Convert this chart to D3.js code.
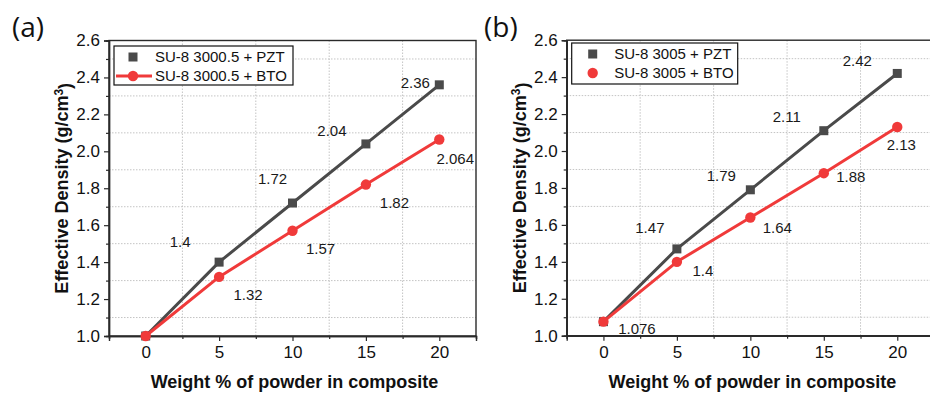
<!DOCTYPE html>
<html><head><meta charset="utf-8">
<script src="https://cdn.jsdelivr.net/npm/d3@7"></script>
<style>
html,body{margin:0;padding:0;background:#fff;}
svg{display:block;}
text{font-family:"Liberation Sans",Arial,sans-serif;}
</style></head>
<body><svg id="chart" width="930" height="394"></svg>
<script>
// ---- data ----
const weightPct = [0, 5, 10, 15, 20];
const pztA = [1.0, 1.4, 1.72, 2.04, 2.36];
const btoA = [1.0, 1.32, 1.57, 1.82, 2.064];
const pztB = [1.076, 1.47, 1.79, 2.11, 2.42];
const btoB = [1.076, 1.4, 1.64, 1.88, 2.13];
const yMajorTicks = [1.0, 1.2, 1.4, 1.6, 1.8, 2.0, 2.2, 2.4, 2.6];
const yMinorTicks = [1.1, 1.3, 1.5, 1.7, 1.9, 2.1, 2.3, 2.5];
const xMajorTicks = [0, 5, 10, 15, 20];
const xMinorTicks = [-2.5, 2.5, 7.5, 12.5, 17.5, 22.5];
const labelsPztA = [false, true, true, true, true];
const labelsBtoA = [false, true, true, true, true];
const labelsPztB = [false, true, true, true, true];
const labelsBtoB = [true, true, true, true, true];
const legendA = ["SU-8 3000.5 + PZT", "SU-8 3000.5 + BTO"];
const legendB = ["SU-8 3005 + PZT", "SU-8 3005 + BTO"];

// ---- layout (pixel offsets of value labels, not data) ----
const offPztA = [null, [-39,-20], [-20,-24], [-34,-13.5], [-24,-2]];
const offBtoA = [null, [29,18], [28,18], [28.5,18.5], [16,19.5]];
const offPztB = [null, [-27,-21], [-29,-14], [-37,-13.5], [-40,-12.7]];
const offBtoB = [[33.5,7.5], [26,9], [27,10.5], [27,4], [4,18]];

const GRAY = "#4a4a4a", RED = "#f03a3a", AXIS = "#2a2a2a";
const svg = d3.select("#chart");

function panel(opt){
  const g = svg.append("g");
  const x = d3.scaleLinear().domain([-2.5, 22.5]).range([opt.left, opt.right]);
  const y = d3.scaleLinear().domain([1.0, 2.6]).range([opt.bottom, opt.top]);

  // grid (minor positions, dotted)
  g.selectAll(".gx").data(xMinorTicks.filter(v => v > -2.5 && v < 22.5)).join("line")
    .attr("x1", d => x(d)).attr("x2", d => x(d)).attr("y1", opt.top).attr("y2", opt.bottom)
    .attr("stroke", "#c4c4c4").attr("stroke-width", 1).attr("stroke-dasharray", "1.5,1.5");
  g.selectAll(".gy").data(yMinorTicks).join("line")
    .attr("y1", d => y(d)).attr("y2", d => y(d)).attr("x1", opt.left).attr("x2", opt.right)
    .attr("stroke", "#c4c4c4").attr("stroke-width", 1).attr("stroke-dasharray", "1.5,1.5");

  // frame
  g.append("rect").attr("x", opt.left).attr("y", opt.top)
    .attr("width", opt.right - opt.left).attr("height", opt.bottom - opt.top)
    .attr("fill", "none").attr("stroke", AXIS).attr("stroke-width", 1.4);

  // axes
  const yAxis = d3.axisLeft(y).tickValues(yMajorTicks).tickFormat(d3.format(".1f")).tickSizeOuter(0).tickSize(5).tickPadding(4);
  const yAxisMinor = d3.axisLeft(y).tickValues(yMinorTicks).tickFormat("").tickSizeOuter(0).tickSize(3);
  const xAxis = d3.axisBottom(x).tickValues(xMajorTicks).tickFormat(d3.format("d")).tickSizeOuter(0).tickSize(5).tickPadding(5);
  const xAxisMinor = d3.axisBottom(x).tickValues(xMinorTicks).tickFormat("").tickSizeOuter(0).tickSize(3);
  [[yAxis, `translate(${opt.left},0)`], [yAxisMinor, `translate(${opt.left},0)`],
   [xAxis, `translate(0,${opt.bottom})`], [xAxisMinor, `translate(0,${opt.bottom})`]].forEach(([ax, tr]) => {
    const a = g.append("g").attr("transform", tr).call(ax);
    a.select(".domain").attr("stroke", AXIS).attr("stroke-width", 1.4);
    a.selectAll(".tick line").attr("stroke", AXIS).attr("stroke-width", 1.2);
    a.selectAll(".tick text").attr("fill", "#111").style("font-size", "17px")
      .style("font-family", '"Liberation Sans",Arial,sans-serif');
  });

  // axis titles
  g.append("text").attr("x", (opt.left + opt.right) / 2 + 2).attr("y", 388)
    .attr("text-anchor", "middle").style("font-size", "18px").style("font-weight", "bold")
    .attr("fill", "#111").text("Weight % of powder in composite");
  const yt = g.append("text").attr("transform", `translate(${opt.left - 41},${(opt.top + opt.bottom) / 2}) rotate(-90)`)
    .attr("text-anchor", "middle").style("font-size", "18px").style("font-weight", "bold").attr("fill", "#111");
  yt.append("tspan").text("Effective Density (g/cm");
  yt.append("tspan").text("3").attr("dy", "-0.45em").style("font-size", "12px");
  yt.append("tspan").text(")").attr("dy", "0.45em");

  // panel label
  g.append("text").attr("x", opt.labelX).attr("y", 37).style("font-family", '"Open Sans",sans-serif')
    .style("font-size", "28px").attr("fill", "#111").text(opt.panelLabel);

  // series
  const line = d3.line().x((d, i) => x(weightPct[i])).y(d => y(d));
  const series = [
    {vals: opt.pzt, color: GRAY, shape: "square", offs: opt.offPzt, show: opt.showPzt},
    {vals: opt.bto, color: RED, shape: "circle", offs: opt.offBto, show: opt.showBto}
  ];
  series.forEach(s => {
    g.append("path").datum(s.vals).attr("d", line).attr("fill", "none")
      .attr("stroke", s.color).attr("stroke-width", 3).attr("stroke-linejoin", "round");
    if (s.shape === "square") {
      g.selectAll(null).data(s.vals).join("rect")
        .attr("x", (d, i) => x(weightPct[i]) - 4.5).attr("y", d => y(d) - 4.5)
        .attr("width", 9).attr("height", 9).attr("fill", s.color);
    } else {
      g.selectAll(null).data(s.vals).join("circle")
        .attr("cx", (d, i) => x(weightPct[i])).attr("cy", d => y(d)).attr("r", 5.2).attr("fill", s.color);
    }
  });
  series.forEach(s => {
    s.vals.forEach((v, i) => {
      if (!s.show[i]) return;
      const o = s.offs[i];
      g.append("text").attr("x", x(weightPct[i]) + o[0]).attr("y", y(v) + o[1]).attr("dy", "0.35em")
        .attr("text-anchor", "middle").style("font-size", "15px").attr("fill", "#1a1a1a").text(String(v));
    });
  });

  // legend
  const L = opt.legend;
  g.append("rect").attr("x", L.x).attr("y", L.y).attr("width", L.w).attr("height", L.h)
    .attr("fill", "#fff").attr("stroke", "#111").attr("stroke-width", 1.2);
  const rows = [{t: opt.legendText[0], c: GRAY, shape: "square"}, {t: opt.legendText[1], c: RED, shape: "circle"}];
  rows.forEach((r, i) => {
    const cy = L.y + L.rowY[i];
    const mx = L.x + L.markerX;
    if (L.lines[i]) {
      g.append("line").attr("x1", L.x + 2).attr("x2", L.x + 38).attr("y1", cy).attr("y2", cy)
        .attr("stroke", r.c).attr("stroke-width", 3);
    }
    if (r.shape === "square") {
      g.append("rect").attr("x", mx - 4.5).attr("y", cy - 4.5).attr("width", 9).attr("height", 9).attr("fill", r.c);
    } else {
      g.append("circle").attr("cx", mx).attr("cy", cy).attr("r", 5.2).attr("fill", r.c);
    }
    g.append("text").attr("x", L.x + L.textX).attr("y", cy).attr("dy", "0.35em")
      .style("font-size", "15px").attr("fill", "#111").text(r.t);
  });
}

panel({left: 109, right: 476, top: 40.5, bottom: 336, pzt: pztA, bto: btoA,
  offPzt: offPztA, offBto: offBtoA, showPzt: labelsPztA, showBto: labelsBtoA,
  panelLabel: "(a)", labelX: 12, legendText: legendA,
  legend: {x: 114, y: 46, w: 179, h: 39, rowY: [11, 30], markerX: 19, textX: 41, lines: [false, true]}});

panel({left: 566.7, right: 934, top: 40.2, bottom: 335.7, pzt: pztB, bto: btoB,
  offPzt: offPztB, offBto: offBtoB, showPzt: labelsPztB, showBto: labelsBtoB,
  panelLabel: "(b)", labelX: 484, legendText: legendB,
  legend: {x: 571.7, y: 43, w: 166, h: 41, rowY: [11, 30], markerX: 21, textX: 42.5, lines: [false, false]}});
</script>
</body></html>
